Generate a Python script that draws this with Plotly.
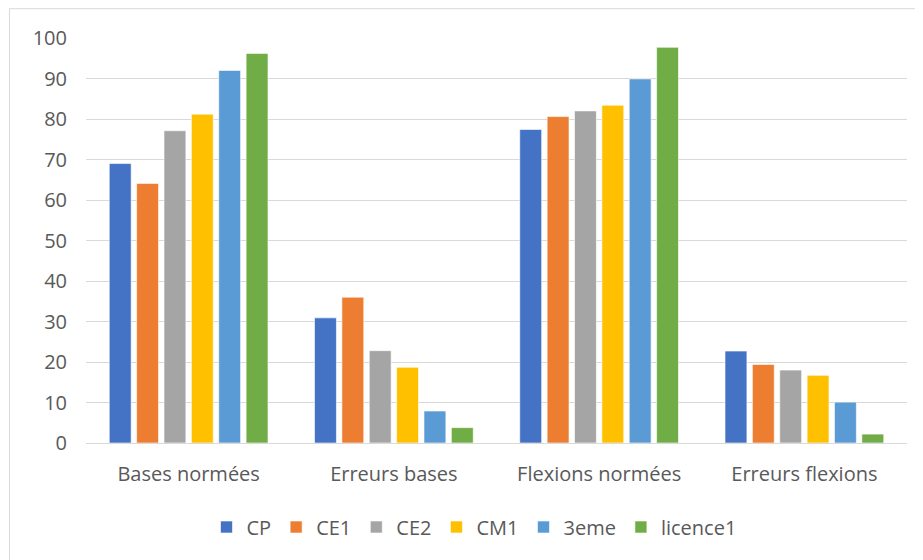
import plotly.graph_objects as go

categories = ["Bases normées", "Erreurs bases", "Flexions normées", "Erreurs flexions"]
series_names = ["CP", "CE1", "CE2", "CM1", "3eme", "licence1"]
cp = [69.0, 30.9, 77.4, 22.7]
ce1 = [64.1, 36.0, 80.6, 19.4]
ce2 = [77.1, 22.8, 82.0, 18.0]
cm1 = [81.2, 18.7, 83.4, 16.7]
troisieme = [92.0, 7.9, 89.9, 10.1]
licence1 = [96.2, 3.8, 97.7, 2.2]
y_ticks = [0, 10, 20, 30, 40, 50, 60, 70, 80, 90, 100]

colors = ["#4472C4", "#ED7D31", "#A5A5A5", "#FFC000", "#5B9BD5", "#70AD47"]
values = [cp, ce1, ce2, cm1, troisieme, licence1]

FONT = "Open Sans"
FS = 20
fig = go.Figure()
for name, vals, col in zip(series_names, values, colors):
    fig.add_trace(go.Bar(
        x=categories, y=vals, name=name,
        marker=dict(color=col, line=dict(color="rgba(255,255,255,0.6)", width=1)),
    ))

OFF = 8  # page body margin
W, H = 923, 560
# target screen positions
PL, PR, PT, PB = 86, 907, 38, 443
L = PL - OFF
T = PT - OFF
R = W - (PR - OFF)
B = H - (PB - OFF)
pw = W - L - R
ph = H - T - B


def px(xs):
    return (xs - PL) / pw


def py(ys):
    return (PB - ys) / ph


fig.update_layout(
    width=W, height=H,
    margin=dict(l=L, r=R, t=T, b=B),
    barmode="group", bargap=0.2, bargroupgap=0.2,
    plot_bgcolor="white", paper_bgcolor="white",
    font=dict(family=FONT, size=FS, color="#595959"),
    showlegend=True,
    legend=dict(
        orientation="h", x=px(474), xanchor="center",
        y=py(527), yanchor="middle",
        font=dict(family=FONT, size=FS, color="#595959"),
        itemwidth=30, traceorder="normal",
    ),
    xaxis=dict(
        showgrid=False, showline=False, ticks="", ticklabelstandoff=17,
        tickfont=dict(family=FONT, size=FS, color="#595959"),
    ),
    yaxis=dict(
        range=[0, 100], tickvals=y_ticks, showgrid=True, gridcolor="#D9D9D9",
        gridwidth=1, zeroline=True, zerolinecolor="#D9D9D9", zerolinewidth=1,
        showline=False, ticks="", ticklabelstandoff=18,
        tickfont=dict(family=FONT, size=FS, color="#595959"),
    ),
    shapes=[dict(
        type="rect", xref="paper", yref="paper",
        x0=px(9.5), x1=px(W + 20),
        y0=py(H + 20), y1=py(8.7),
        line=dict(color="#D9D9D9", width=1), fillcolor="rgba(0,0,0,0)", layer="below",
    )],
)

fig.write_html("out.html")
